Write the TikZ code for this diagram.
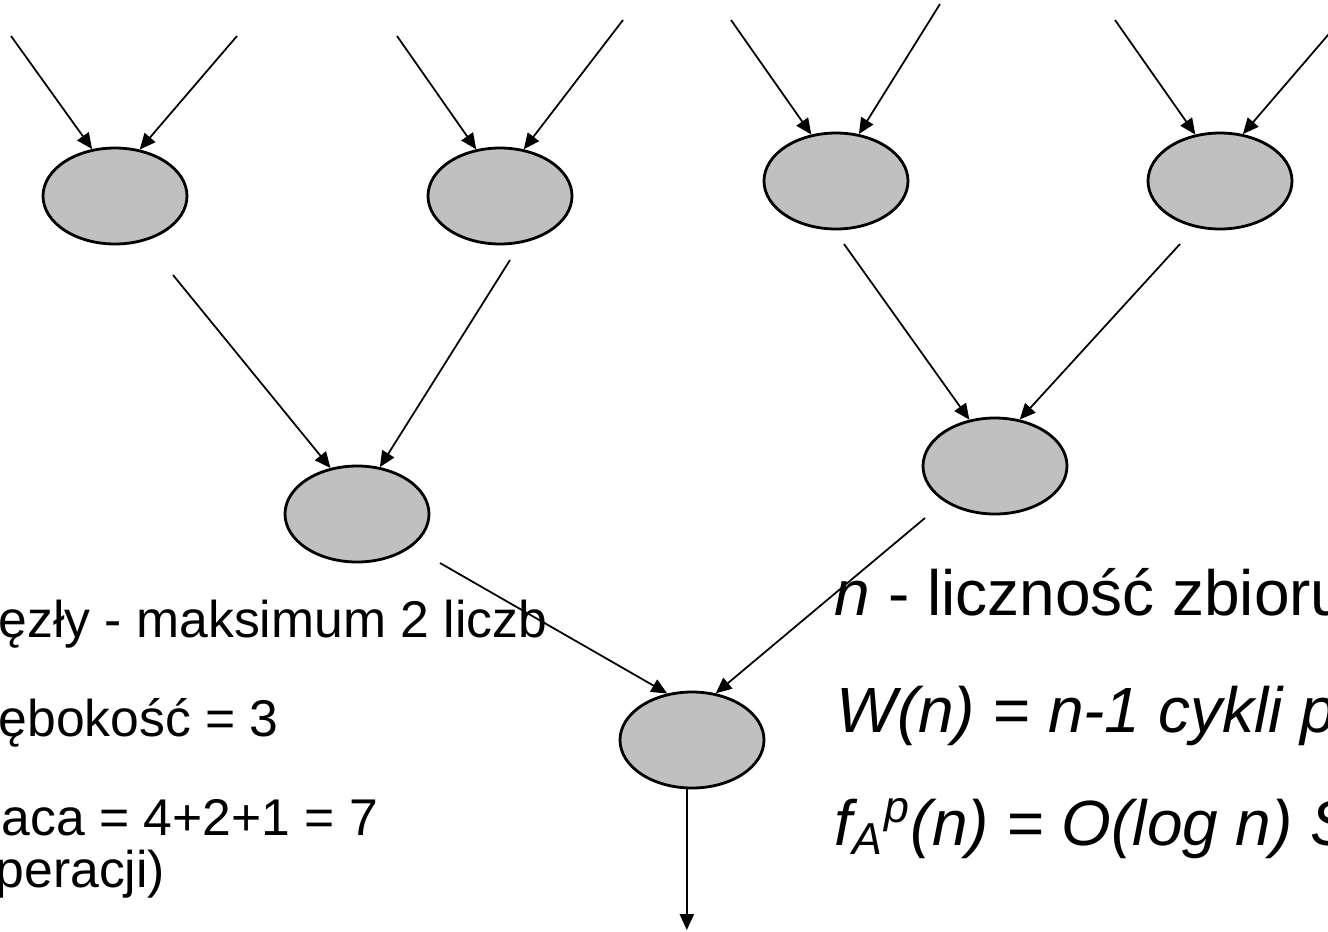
\documentclass[tikz,border=0pt]{standalone}
\usepackage{fontspec}
\setmainfont{Liberation Sans}
\usetikzlibrary{shapes.geometric,arrows.meta}
\definecolor{srebrny}{RGB}{192,192,192}

\begin{document}
\begin{tikzpicture}[
    wezel/.style={ellipse,draw,fill=srebrny,line width=0.8pt,minimum width=1.44cm,minimum height=0.96cm,inner sep=0pt},
    luk/.style={-{Triangle[length=4.5pt,width=4pt]},line width=0.5pt},
    opis/.style={anchor=base west,inner sep=0pt,font=\fontsize{14.7}{17}\selectfont},
    wzor/.style={anchor=base west,inner sep=0pt,font=\fontsize{18.2}{22}\selectfont}
]
\useasboundingbox (0,0) rectangle (13.28,9.31);
\clip (0,0) rectangle (13.28,9.31);

\node[wezel] (w1) at (1.15,7.35) {};
\node[wezel] (w2) at (5.00,7.35) {};
\node[wezel] (w3) at (8.36,7.50) {};
\node[wezel] (w4) at (12.20,7.50) {};
\node[wezel] (w5) at (3.57,4.17) {};
\node[wezel] (w6) at (9.95,4.65) {};
\node[wezel] (w7) at (6.92,1.91) {};

% wejscia
\coordinate (we1) at (0.11,8.95);
\coordinate (we2) at (2.37,8.95);
\coordinate (we3) at (3.97,8.95);
\coordinate (we4) at (6.23,9.11);
\coordinate (we5) at (7.31,9.11);
\coordinate (we6) at (9.40,9.27);
\coordinate (we7) at (11.15,9.11);
\coordinate (we8) at (13.40,9.10);
% poczatki lukow miedzy poziomami
\coordinate (z1) at (1.73,6.56);
\coordinate (z2) at (5.10,6.71);
\coordinate (z3) at (8.44,6.87);
\coordinate (z4) at (11.80,6.87);
\coordinate (z5) at (4.40,3.68);
\coordinate (z6) at (9.25,4.13);
\coordinate (wy) at (6.84,0.01);

\draw[luk] (we1) -- (w1.116);
\draw[luk] (we2) -- (w1.62);
\draw[luk] (we3) -- (w2.117);
\draw[luk] (we4) -- (w2.63);
\draw[luk] (we5) -- (w3.118);
\draw[luk] (we6) -- (w3.64);
\draw[luk] (we7) -- (w4.118);
\draw[luk] (we8) -- (w4.64);

\draw[luk] (z1) -- (w5.120);
\draw[luk] (z2) -- (w5.64);
\draw[luk] (z3) -- (w6.119);
\draw[luk] (z4) -- (w6.62);
\draw[luk] (z5) -- (w7.118);
\draw[luk] (z6) -- (w7.63);
\draw[luk] (w7.264) -- (w7.264 |- wy);

\node[opis] (t1) at (-0.02,2.94) {ęzły - maksimum 2 liczb};
\node[opis] (t2) at (-0.02,1.95) {ębokość = 3};
\node[opis] (t3) at (0.01,0.96) {aca = 4+2+1 = 7};
\node[opis] (t4) at (-0.05,0.44) {peracji)};

\node[wzor] (n1) at (8.34,3.16) {\itshape n\upshape{} - liczność zbioru};
\node[wzor] (n2) at (8.36,1.99) {\itshape W(n) = n-1 cykli p};
\node[wzor] (n3) at (8.34,0.86) {\itshape f\textsubscript{A}\textsuperscript{p}(n) = O(log n) S};
\end{tikzpicture}
\end{document}
